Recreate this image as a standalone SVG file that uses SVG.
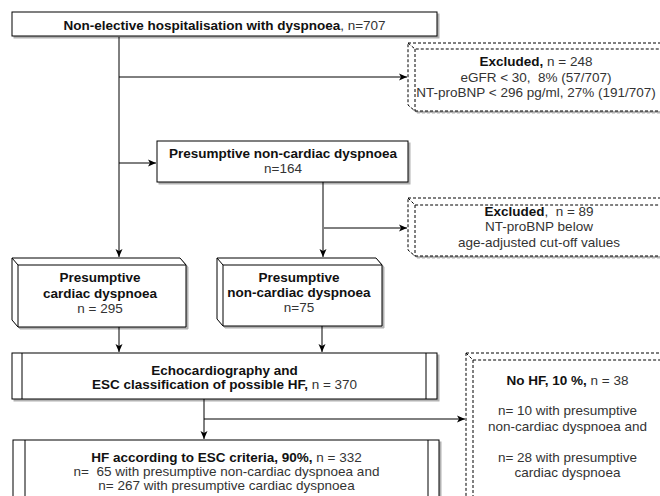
<svg xmlns="http://www.w3.org/2000/svg" width="660" height="496" viewBox="0 0 660 496">
<defs>
<style>
.box{fill:#fff;stroke:#000;stroke-width:1}
.dash{fill:#fff;stroke:#000;stroke-width:1;stroke-dasharray:3 2}
.line{fill:none;stroke:#000;stroke-width:1}
.dline{fill:none;stroke:#000;stroke-width:1;stroke-dasharray:3 2}
.conn{fill:none;stroke:#000;stroke-width:1}
text{font-family:"Liberation Sans",Arial,sans-serif;font-size:13.5px;fill:#333;text-anchor:middle}
.b{font-weight:bold;fill:#111}
</style>
<filter id="sh" x="-5%" y="-5%" width="115%" height="130%">
<feDropShadow dx="2" dy="2" stdDeviation="0.6" flood-color="#000" flood-opacity="0.3"/>
</filter>
<marker id="ar" markerWidth="9" markerHeight="8" refX="8" refY="4" orient="auto" markerUnits="userSpaceOnUse">
<path d="M0,0.5 L8,4 L0,7.5 L2,4 Z" fill="#000"/>
</marker>
</defs>

<g id="connectors">
<path class="conn" d="M119,37 V257" marker-end="url(#ar)"/>
<path class="conn" d="M119,77 H407" marker-end="url(#ar)"/>
<path class="conn" d="M119,163 H156" marker-end="url(#ar)"/>
<path class="conn" d="M323,182 V257" marker-end="url(#ar)"/>
<path class="conn" d="M324,228 H407" marker-end="url(#ar)"/>
<path class="conn" d="M119,327 V352" marker-end="url(#ar)"/>
<path class="conn" d="M322,326 V352" marker-end="url(#ar)"/>
<path class="conn" d="M204,399 V439" marker-end="url(#ar)"/>
<path class="conn" d="M204,419 H465" marker-end="url(#ar)"/>
</g>

<g id="start">
<rect class="box" x="12" y="12" width="425" height="24" filter="url(#sh)"/>
<text x="224.5" y="29.5"><tspan class="b">Non-elective hospitalisation with dyspnoea</tspan>, n=707</text>
</g>

<g id="excluded1">
<path class="dash" d="M408,43 H664 V111 H415 L408,105 Z" filter="url(#sh)"/>
<path class="dline" d="M408,43 L415,49 H664 M415,49 V111"/>
<text x="536" y="66"><tspan class="b">Excluded,</tspan> n = 248</text>
<text x="536" y="81.5">eGFR &lt; 30, &#160;8% (57/707)</text>
<text x="536" y="97">NT-proBNP &lt; 296 pg/ml, 27% (191/707)</text>
</g>

<g id="noncardiac164">
<rect class="box" x="157" y="141" width="251" height="41" filter="url(#sh)"/>
<text x="283" y="158"><tspan class="b">Presumptive non-cardiac dyspnoea</tspan></text>
<text x="283" y="173">n=164</text>
</g>

<g id="excluded2">
<path class="dash" d="M408,198 H664 V256 H415 L408,250 Z" filter="url(#sh)"/>
<path class="dline" d="M408,198 L415,205 H664 M415,205 V256"/>
<text x="539" y="215.5"><tspan class="b">Excluded</tspan>, &#160;n = 89</text>
<text x="539" y="231">NT-proBNP below</text>
<text x="539" y="246.5">age-adjusted cut-off values</text>
</g>

<g id="cardiac295">
<path class="box" d="M12,258 H180 L186,265 V327 H18 L12,320 Z" filter="url(#sh)"/>
<path class="line" d="M12,258 L18,265 H186 M18,265 V327"/>
<text x="100" y="282" class="b">Presumptive</text>
<text x="100" y="297.5" class="b">cardiac dyspnoea</text>
<text x="100" y="313">n = 295</text>
</g>

<g id="noncardiac75">
<path class="box" d="M217,258 H376 L382,265 V326 H223 L217,319 Z" filter="url(#sh)"/>
<path class="line" d="M217,258 L223,265 H382 M223,265 V326"/>
<text x="299" y="282" class="b">Presumptive</text>
<text x="299" y="297" class="b">non-cardiac dyspnoea</text>
<text x="299" y="312">n=75</text>
</g>

<g id="echo">
<rect class="box" x="12" y="353" width="425" height="46" filter="url(#sh)"/>
<path class="line" d="M22,353 V399 M426,353 V399"/>
<text x="224.5" y="374.5" class="b">Echocardiography and</text>
<text x="224.5" y="389"><tspan class="b">ESC classification of possible HF,</tspan> n = 370</text>
</g>

<g id="hf">
<rect class="box" x="13" y="440" width="426" height="70" filter="url(#sh)"/>
<path class="line" d="M25,440 V510 M428,440 V510"/>
<text x="226.5" y="461.5"><tspan class="b">HF according to ESC criteria, 90%,</tspan> n = 332</text>
<text x="226.5" y="475.5">n= &#160;65 with presumptive non-cardiac dyspnoea and</text>
<text x="226.5" y="489.5">n= 267 with presumptive cardiac dyspnoea</text>
</g>

<g id="nohf">
<path class="dash" d="M466,353 H670 V510 H473 L466,503 Z" filter="url(#sh)"/>
<path class="dline" d="M466,353 L473,360 H670 M473,360 V510"/>
<text x="567.5" y="384.5"><tspan class="b">No HF, 10 %,</tspan> n = 38</text>
<text x="567.5" y="415">n= 10 with presumptive</text>
<text x="567.5" y="430.5">non-cardiac dyspnoea and</text>
<text x="567.5" y="461.5">n= 28 with presumptive</text>
<text x="567.5" y="477">cardiac dyspnoea</text>
</g>
</svg>
